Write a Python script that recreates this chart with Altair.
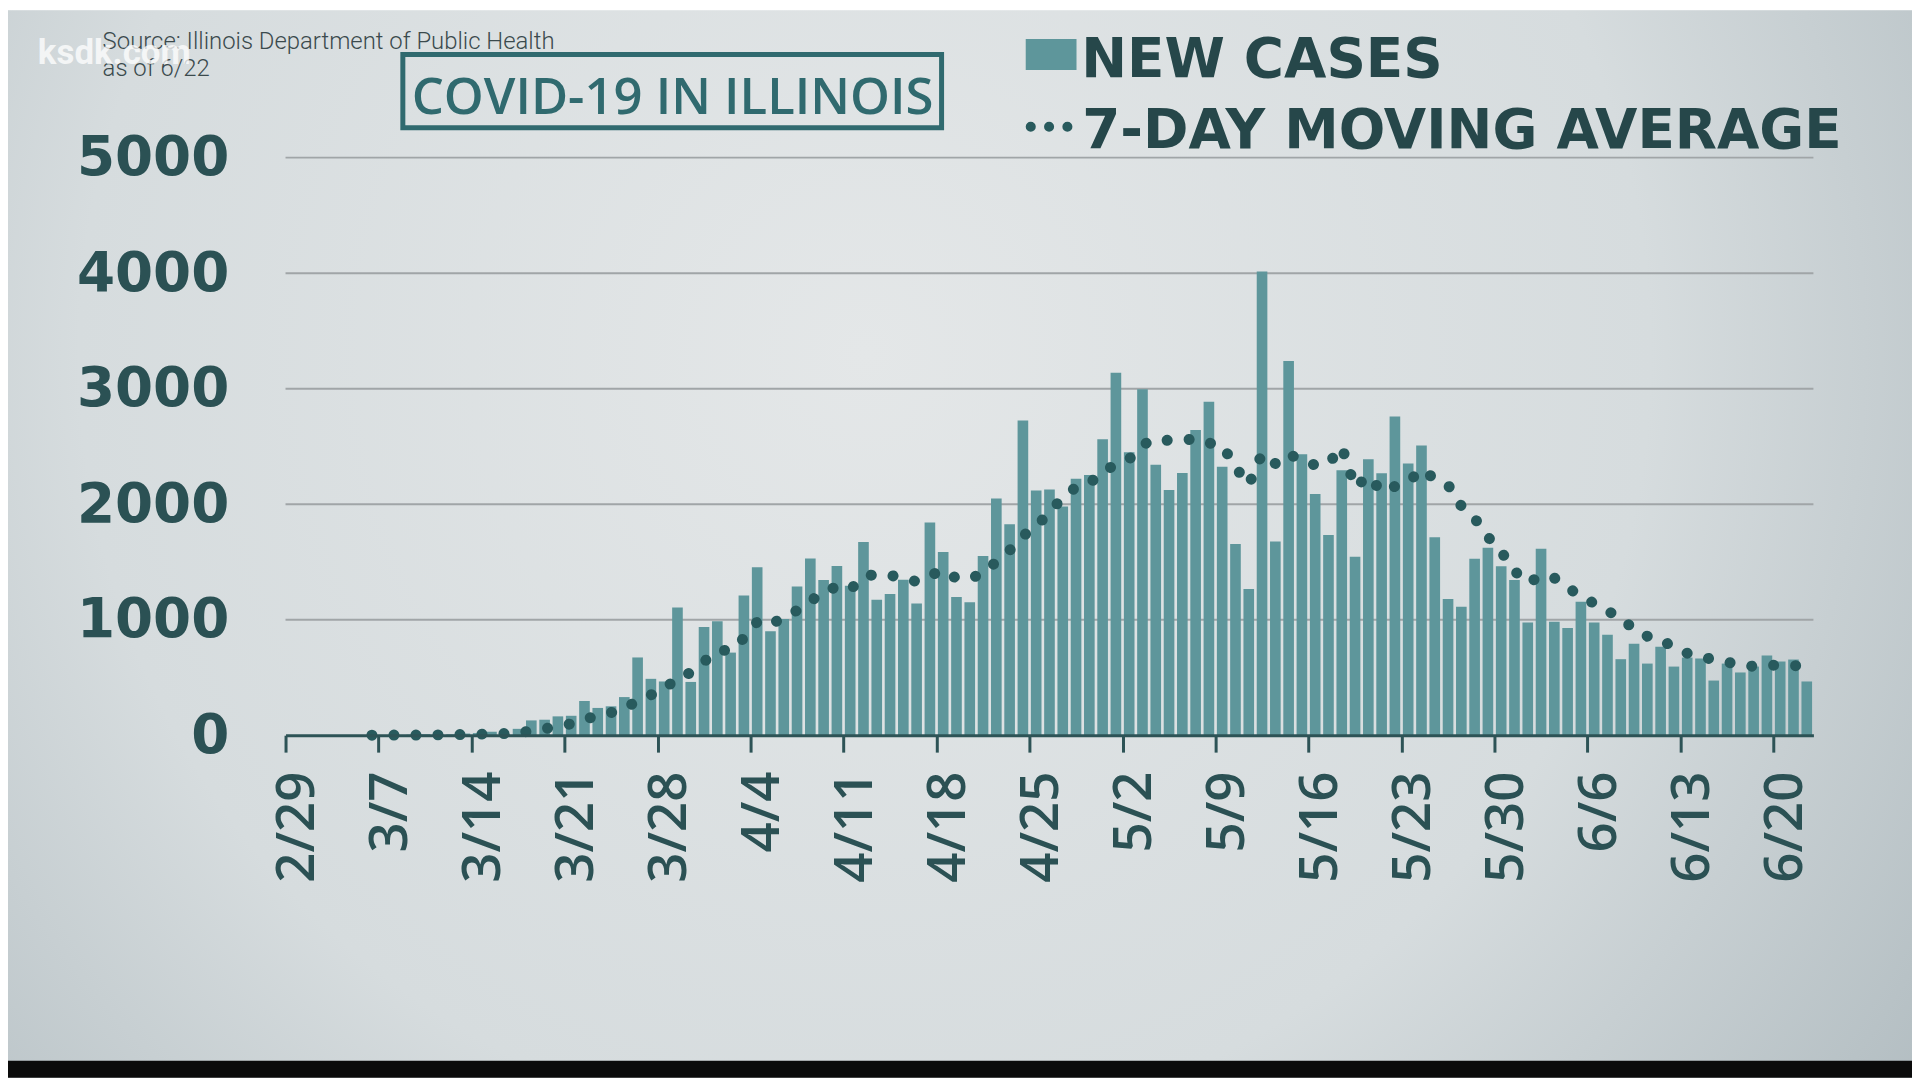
import altair as alt
import pandas as pd

# ---------------- data ----------------
# daily new cases, one value per day starting 2/29 (index 0) through 6/22 (index 114)
CASES = [
    0, 1, 0, 0, 0, 1, 1,
    1, 2, 4, 8, 6, 7, 14,
    18, 30, 12, 55, 128, 134, 163,
    168, 296, 236, 250, 330, 673, 488,
    465, 1105, 461, 937, 986, 715, 1209,
    1453, 899, 1006, 1287, 1529, 1344, 1465,
    1293, 1672, 1173, 1222, 1346, 1140, 1842,
    1585, 1197, 1151, 1551, 2049, 1826, 2724,
    2119, 2126, 1980, 2219, 2253, 2563, 3137,
    2450, 2994, 2341, 2122, 2270, 2641, 2887,
    2325, 1656, 1266, 4014, 1677, 3239, 2432,
    2088, 1734, 2294, 1545, 2388, 2268, 2758,
    2352, 2508, 1713, 1178, 1111, 1527, 1622,
    1462, 1343, 975, 1614, 982, 929, 1156,
    975, 870, 658, 792, 620, 766, 594,
    672, 664, 473, 620, 543, 594, 690,
    638, 655, 465,
]

# 7-day moving average, first value at day index 6 (3/6)
MA_START = 6
MA = [
    0, 1, 1, 1, 2, 3, 4, 6, 8, 12,
    14, 20, 38, 56, 77, 99, 137, 169, 196, 225,
    302, 349, 391, 507, 539, 637, 731, 737, 840, 981,
    951, 1029, 1079, 1157, 1247, 1283, 1260, 1371, 1395, 1385,
    1359, 1330, 1384, 1426, 1358, 1355, 1402, 1502, 1600, 1726,
    1802, 1935, 2054, 2149, 2178, 2283, 2342, 2390, 2514, 2565,
    2551, 2554, 2565, 2529, 2511, 2320, 2167, 2437, 2352, 2438,
    2373, 2339, 2350, 2497, 2144, 2246, 2107, 2154, 2191, 2302,
    2219, 2166, 1984, 1878, 1716, 1589, 1422, 1317, 1379, 1361,
    1275, 1209, 1139, 1072, 1026, 909, 857, 834, 754, 710,
    681, 654, 630, 619, 594, 608, 603, 602, 601,
]

TICK_DAYS = [0, 7, 14, 21, 28, 35, 42, 49, 56, 63, 70, 77, 84, 91, 98, 105, 112]
TICK_LABELS = ["2/29", "3/7", "3/14", "3/21", "3/28", "4/4", "4/11", "4/18", "4/25",
               "5/2", "5/9", "5/16", "5/23", "5/30", "6/6", "6/13", "6/20"]
Y_TICKS = [0, 1000, 2000, 3000, 4000, 5000]
GRID_VALUES = [1000, 2000, 3000, 4000, 5000]

TITLE = "COVID-19 IN ILLINOIS"
SOURCE = "Source: Illinois Department of Public Health"
ASOF = "as of 6/22"
WATERMARK = "ksdk.com"
LEG1 = "NEW CASES"
LEG2 = "7-DAY MOVING AVERAGE"

# ---------------- style ----------------
W, H = 1534.3, 580
PAD_L, PAD_T = 278.7, 148
PAD_R = 1912 - PAD_L - W
PAD_B = 1072 - PAD_T - H

DARK = "#2b5154"
BAR = "#5e969b"
DOT = "#285a5d"
AXIS_C = "#2d5356"
TITLE_C = "#306a6f"
LEG_TEXT = "#26474a"
GRID_C = "#a0a5a7"

BG_GRAD = {
    "gradient": "radial",
    "stops": [
        {"offset": 0, "color": "#e4e7e8"},
        {"offset": 0.55, "color": "#d6dcde"},
        {"offset": 1, "color": "#a9b5ba"},
    ],
    "x1": 0.45, "y1": 0.4, "x2": 0.45, "y2": 0.4, "r1": 0, "r2": 0.75,
}

bars_df = pd.DataFrame({"day": list(range(len(CASES))), "cases": CASES})
ma_df = pd.DataFrame({"day": [MA_START + k for k in range(len(MA))], "avg": MA})
grid_df = pd.DataFrame({"v": GRID_VALUES})
deco = alt.Data(values=[{"a": 1}])

xscale = alt.Scale(domain=[0, 115], nice=False, zero=False)
yscale = alt.Scale(domain=[0, 5000], nice=False)

label_expr = "[" + ",".join("'%s'" % s for s in TICK_LABELS) + "][round(datum.value / 7)]"

xaxis = alt.Axis(
    values=TICK_DAYS, labelExpr=label_expr, labelAngle=270, labelAlign="right",
    labelBaseline="middle", labelFont="Open Sans", labelFontWeight=600,
    labelFontSize=53, labelColor=DARK, labelPadding=19, labelOffset=12,
    labelFlush=False, labelOverlap=False, tickSize=17, tickWidth=3, tickColor=AXIS_C,
    domainColor=AXIS_C, domainWidth=3, grid=False, title=None, zindex=1,
)
yaxis = alt.Axis(
    values=Y_TICKS, format="d", labelFont="DejaVu Sans", labelFontWeight="bold",
    labelFontSize=55, labelColor=DARK, labelPadding=57, labelFlush=False,
    labelOverlap=False, ticks=False, domain=False, grid=False, title=None, zindex=1,
)

bg = alt.Chart(deco).mark_rect(fill=BG_GRAD).encode(
    x=alt.value(-PAD_L), x2=alt.value(W + PAD_R), y=alt.value(-PAD_T), y2=alt.value(H + PAD_B)
)
bottom_band = alt.Chart(deco).mark_rect(color="#0b0b0b").encode(
    x=alt.value(-PAD_L), x2=alt.value(W + PAD_R), y=alt.value(907), y2=alt.value(H + PAD_B)
)

grid = alt.Chart(grid_df).mark_rule(color=GRID_C, strokeWidth=2).encode(
    y=alt.Y("v:Q", scale=yscale, axis=yaxis), x=alt.value(0), x2=alt.value(W)
)

bars = alt.Chart(bars_df).transform_calculate(
    x0="datum.day + 0.1", x1="datum.day + 0.9"
).mark_rect(color=BAR).encode(
    x=alt.X("x0:Q", scale=xscale, axis=xaxis),
    x2="x1:Q",
    y=alt.Y("cases:Q", scale=yscale, axis=yaxis),
    y2=alt.datum(0),
)

line = alt.Chart(ma_df).transform_calculate(xc="datum.day + 0.5").mark_line(
    color=DOT, strokeWidth=11, strokeCap="round", strokeDash=[0.1, 22]
).encode(
    x=alt.X("xc:Q", scale=xscale, axis=xaxis),
    y=alt.Y("avg:Q", scale=yscale, axis=yaxis),
)

title_box = alt.Chart(deco).mark_rect(fillOpacity=0, stroke=TITLE_C, strokeWidth=5).encode(
    x=alt.value(117.8), x2=alt.value(658.8), y=alt.value(-103.5), y2=alt.value(-30)
)
title_text = alt.Chart(deco).mark_text(
    font="Open Sans", fontSize=51, fontWeight=600, color=TITLE_C, align="center",
    baseline="alphabetic"
).encode(x=alt.value(388.6), y=alt.value(-44.3), text=alt.value(TITLE))

source_text = alt.Chart(deco).mark_text(
    font="Roboto", fontSize=24, fontWeight=300, color="#3b4a4d", align="left", baseline="alphabetic"
).encode(x=alt.value(-183.7), y=alt.value(-109), text=alt.value(SOURCE))
asof_text = alt.Chart(deco).mark_text(
    font="Roboto", fontSize=24, fontWeight=300, color="#3b4a4d", align="left", baseline="alphabetic"
).encode(x=alt.value(-183.7), y=alt.value(-82), text=alt.value(ASOF))
wm_text = alt.Chart(deco).mark_text(
    font="Roboto", fontSize=35, fontWeight="bold", color="#ffffff", opacity=0.75,
    align="left", baseline="alphabetic"
).encode(x=alt.value(-248.7), y=alt.value(-94), text=alt.value(WATERMARK))

leg_swatch = alt.Chart(deco).mark_rect(color=BAR).encode(
    x=alt.value(743.3), x2=alt.value(794.3), y=alt.value(-119), y2=alt.value(-88)
)
leg_text1 = alt.Chart(deco).mark_text(
    font="DejaVu Sans", fontSize=55, fontWeight="bold", color=LEG_TEXT, align="left",
    baseline="alphabetic"
).encode(x=alt.value(799), y=alt.value(-81), text=alt.value(LEG1))
leg_dots = alt.Chart(deco).mark_rule(
    color=DOT, strokeWidth=10, strokeCap="round", strokeDash=[0.1, 18.3]
).encode(x=alt.value(748.3), x2=alt.value(785.2), y=alt.value(-31))
leg_text2 = alt.Chart(deco).mark_text(
    font="DejaVu Sans", fontSize=55, fontWeight="bold", color=LEG_TEXT, align="left",
    baseline="alphabetic"
).encode(x=alt.value(800), y=alt.value(-10), text=alt.value(LEG2))

chart = alt.layer(
    bg, bottom_band, grid, bars, line, title_box, title_text,
    source_text, asof_text, wm_text, leg_swatch, leg_text1, leg_dots, leg_text2,
).properties(
    width=W, height=H,
    padding={"left": PAD_L, "top": PAD_T, "right": PAD_R, "bottom": PAD_B},
    autosize=alt.AutoSizeParams(type="none"),
).configure_view(stroke=None)

chart.save("out.html", embed_options={"renderer": "svg", "actions": False})
